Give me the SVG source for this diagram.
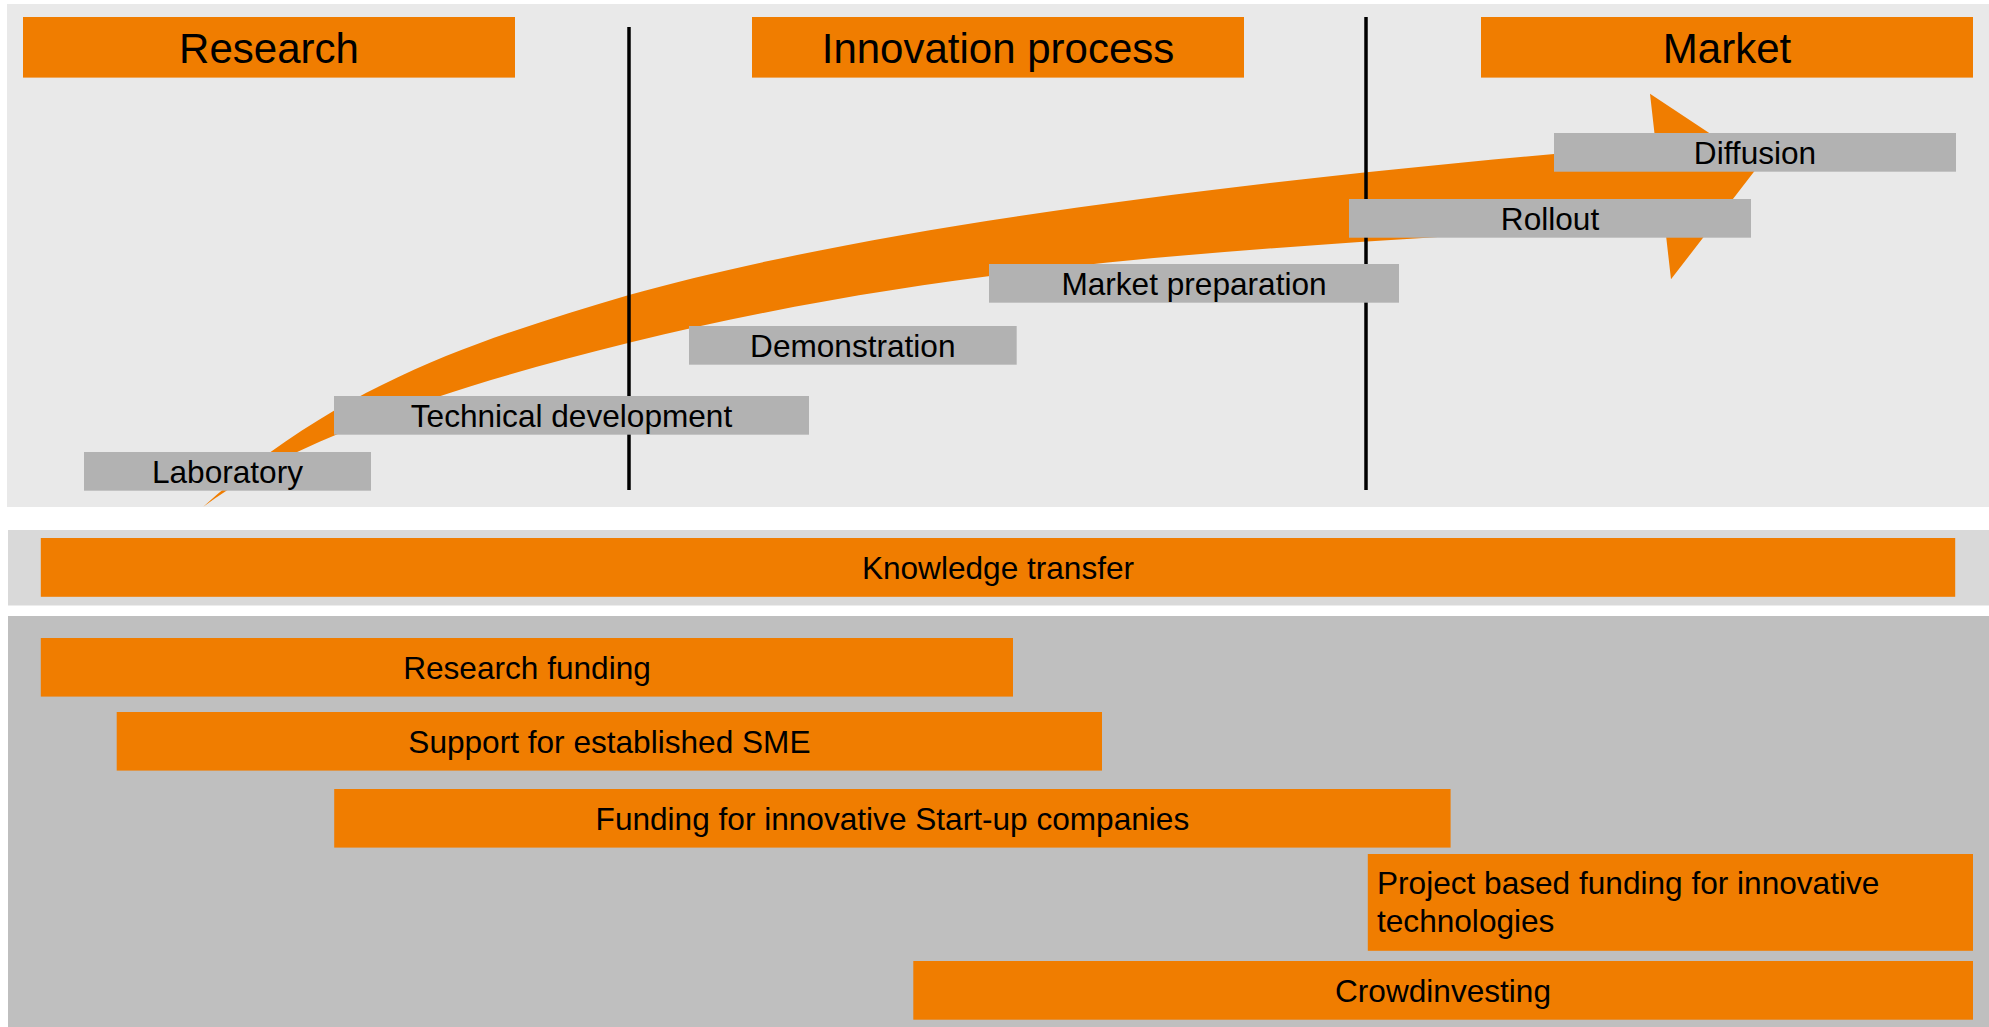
<svg xmlns="http://www.w3.org/2000/svg" width="1989" height="1027" viewBox="0 0 1989 1027">
  <style>
    text { font-family: "Liberation Sans", Arial, sans-serif; fill: #000000; }
    .title { font-size: 42px; text-anchor: middle; }
    .label { font-size: 31.6px; text-anchor: middle; }
    .label-left { font-size: 31.6px; text-anchor: start; }
    .orange { fill: #F07D00; }
    .stage { fill: #B2B2B2; }
    .divider { stroke: #000000; stroke-width: 3.5; fill: none; }
  </style>

  <rect width="1989" height="1027" fill="#FFFFFF"/>

  <!-- Panels -->
  <g id="panels">
    <rect x="7" y="4" width="1982" height="503" fill="#E9E9E9"/>
    <rect x="8" y="530" width="1981" height="75.5" fill="#D9D9D9"/>
    <rect x="8" y="616" width="1981" height="411" fill="#BFBFBF"/>
  </g>

  <!-- Curved process arrow from laboratory to market -->
  <g id="process-arrow">
    <path class="orange" d="M 203.3,506.7
      C 345,379 487,337.6 629,295
      C 879,225 1253,179 1655.8,145
      L 1650,93.7 L 1758.6,165.7 L 1671,279.3 L 1664.5,222
      C 1264.5,249.6 979,257 629,342.7
      C 429,391.7 283.3,446.7 203.3,506.7 Z"/>
  </g>

  <!-- Phase dividers -->
  <g id="connectors">
    <line class="divider" x1="629" y1="27" x2="629" y2="490"/>
    <line class="divider" x1="1366" y1="17" x2="1366" y2="490"/>
  </g>

  <!-- Phase headers -->
  <g id="header-research">
    <rect class="orange" x="23" y="17" width="492" height="60.6"/>
    <text class="title" x="269" y="62.5">Research</text>
  </g>
  <g id="header-innovation">
    <rect class="orange" x="752" y="17" width="492" height="60.6"/>
    <text class="title" x="998" y="62.5">Innovation process</text>
  </g>
  <g id="header-market">
    <rect class="orange" x="1481" y="17" width="492" height="60.6"/>
    <text class="title" x="1727" y="62.5">Market</text>
  </g>

  <!-- Stages -->
  <g id="stage-laboratory">
    <rect class="stage" x="84" y="452" width="287" height="38.7"/>
    <text class="label" x="227.5" y="482.8">Laboratory</text>
  </g>
  <g id="stage-technical-development">
    <rect class="stage" x="334" y="396" width="475" height="38.7"/>
    <text class="label" x="571.5" y="426.8">Technical development</text>
  </g>
  <g id="stage-demonstration">
    <rect class="stage" x="689" y="326" width="327.7" height="38.7"/>
    <text class="label" x="852.8" y="356.8">Demonstration</text>
  </g>
  <g id="stage-market-preparation">
    <rect class="stage" x="989" y="264" width="410" height="38.7"/>
    <text class="label" x="1194" y="294.8">Market preparation</text>
  </g>
  <g id="stage-rollout">
    <rect class="stage" x="1349" y="199" width="402" height="38.7"/>
    <text class="label" x="1550" y="229.8">Rollout</text>
  </g>
  <g id="stage-diffusion">
    <rect class="stage" x="1554" y="133" width="402" height="38.7"/>
    <text class="label" x="1755" y="163.8">Diffusion</text>
  </g>

  <!-- Knowledge transfer -->
  <g id="knowledge-transfer">
    <rect class="orange" x="40.8" y="538" width="1914.4" height="58.8"/>
    <text class="label" x="998" y="579">Knowledge transfer</text>
  </g>

  <!-- Funding instruments -->
  <g id="research-funding">
    <rect class="orange" x="40.8" y="638" width="972.2" height="58.6"/>
    <text class="label" x="527" y="678.7">Research funding</text>
  </g>
  <g id="sme-support">
    <rect class="orange" x="116.7" y="712" width="985.3" height="58.6"/>
    <text class="label" x="609.4" y="752.7">Support for established SME</text>
  </g>
  <g id="startup-funding">
    <rect class="orange" x="334.2" y="789" width="1116.4" height="58.6"/>
    <text class="label" x="892.4" y="829.7">Funding for innovative Start-up companies</text>
  </g>
  <g id="project-funding">
    <rect class="orange" x="1367.8" y="854" width="605.2" height="96.8"/>
    <text class="label-left" x="1377" y="894">Project based funding for innovative</text>
    <text class="label-left" x="1377" y="932">technologies</text>
  </g>
  <g id="crowdinvesting">
    <rect class="orange" x="913.3" y="961" width="1059.7" height="58.7"/>
    <text class="label" x="1443" y="1001.7">Crowdinvesting</text>
  </g>
</svg>
